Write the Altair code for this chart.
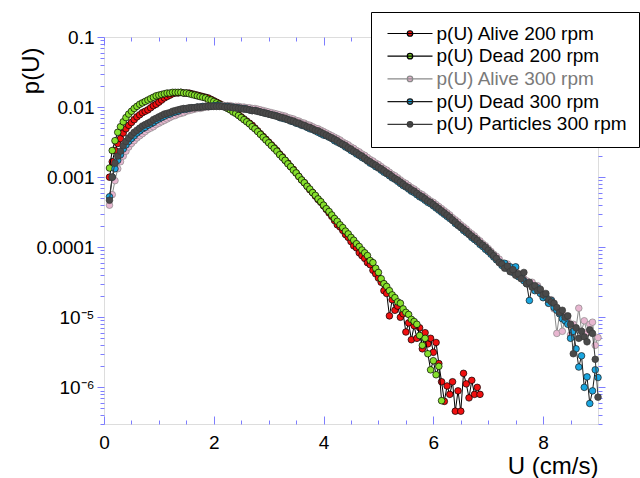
import math
import altair as alt
import pandas as pd

BLUE = "#7d7dff"
FONT = "Liberation Sans"

series_names = ["p(U) Alive 200 rpm", "p(U) Dead 200 rpm", "p(U) Alive 300 rpm",
                "p(U) Dead 300 rpm", "p(U) Particles 300 rpm"]
marker_colors = ["#f01010", "#86e02c", "#e8b6d0", "#1aa6e0", "#4a4a4a"]
line_colors = ["#000000", "#000000", "#8a8a8a", "#1a1a1a", "#3a3a3a"]

# speed bins U (cm/s)
u_200 = [0.10, 0.15, 0.20, 0.25, 0.30, 0.35, 0.40, 0.45, 0.50, 0.55,
         0.60, 0.65, 0.70, 0.75, 0.80, 0.85, 0.90, 0.95, 1.00, 1.05,
         1.10, 1.15, 1.20, 1.25, 1.30, 1.35, 1.40, 1.45, 1.50, 1.55,
         1.60, 1.65, 1.70, 1.75, 1.80, 1.85, 1.90, 1.95, 2.00, 2.05,
         2.10, 2.15, 2.20, 2.25, 2.30, 2.35, 2.40, 2.45, 2.50, 2.55,
         2.60, 2.65, 2.70, 2.75, 2.80, 2.85, 2.90, 2.95, 3.00, 3.05,
         3.10, 3.15, 3.20, 3.25, 3.30, 3.35, 3.40, 3.45, 3.50, 3.55,
         3.60, 3.65, 3.70, 3.75, 3.80, 3.85, 3.90, 3.95, 4.00, 4.05,
         4.10, 4.15, 4.20, 4.25, 4.30, 4.35, 4.40, 4.45, 4.50, 4.55,
         4.60, 4.65, 4.70, 4.75, 4.80, 4.85, 4.90, 4.95, 5.00, 5.05,
         5.10, 5.15, 5.20, 5.25, 5.30, 5.35, 5.40, 5.45, 5.50, 5.55,
         5.60, 5.65, 5.70, 5.75, 5.80, 5.85, 5.90, 5.95, 6.00, 6.05,
         6.10, 6.15, 6.20, 6.25, 6.30, 6.35, 6.40, 6.45, 6.50, 6.55,
         6.60, 6.65, 6.70, 6.75, 6.80, 6.85]

u_300 = [0.10, 0.15, 0.20, 0.25, 0.30, 0.35, 0.40, 0.45, 0.50, 0.55,
         0.60, 0.65, 0.70, 0.75, 0.80, 0.85, 0.90, 0.95, 1.00, 1.05,
         1.10, 1.15, 1.20, 1.25, 1.30, 1.35, 1.40, 1.45, 1.50, 1.55,
         1.60, 1.65, 1.70, 1.75, 1.80, 1.85, 1.90, 1.95, 2.00, 2.05,
         2.10, 2.15, 2.20, 2.25, 2.30, 2.35, 2.40, 2.45, 2.50, 2.55,
         2.60, 2.65, 2.70, 2.75, 2.80, 2.85, 2.90, 2.95, 3.00, 3.05,
         3.10, 3.15, 3.20, 3.25, 3.30, 3.35, 3.40, 3.45, 3.50, 3.55,
         3.60, 3.65, 3.70, 3.75, 3.80, 3.85, 3.90, 3.95, 4.00, 4.05,
         4.10, 4.15, 4.20, 4.25, 4.30, 4.35, 4.40, 4.45, 4.50, 4.55,
         4.60, 4.65, 4.70, 4.75, 4.80, 4.85, 4.90, 4.95, 5.00, 5.05,
         5.10, 5.15, 5.20, 5.25, 5.30, 5.35, 5.40, 5.45, 5.50, 5.55,
         5.60, 5.65, 5.70, 5.75, 5.80, 5.85, 5.90, 5.95, 6.00, 6.05,
         6.10, 6.15, 6.20, 6.25, 6.30, 6.35, 6.40, 6.45, 6.50, 6.55,
         6.60, 6.65, 6.70, 6.75, 6.80, 6.85, 6.90, 6.95, 7.00, 7.05,
         7.10, 7.15, 7.20, 7.25, 7.30, 7.35, 7.40, 7.45, 7.50, 7.55,
         7.60, 7.65, 7.70, 7.75, 7.80, 7.85, 7.90, 7.95, 8.00, 8.05,
         8.10, 8.15, 8.20, 8.25, 8.30, 8.35, 8.40, 8.45, 8.50, 8.55,
         8.60, 8.65, 8.70, 8.75, 8.80, 8.85, 8.90, 8.95, 9.00]

# log10 p(U)
alive_200_log10 = [
    -3.00, -2.78, -2.62, -2.52, -2.45, -2.37, -2.31, -2.26, -2.22, -2.18,
    -2.14, -2.11, -2.08, -2.06, -2.04, -2.01, -1.98, -1.96, -1.93, -1.90,
    -1.87, -1.85, -1.83, -1.81, -1.80, -1.80, -1.79, -1.80, -1.80, -1.80,
    -1.81, -1.82, -1.83, -1.84, -1.85, -1.86, -1.87, -1.89, -1.91, -1.93,
    -1.95, -1.97, -1.99, -2.01, -2.03, -2.05, -2.08, -2.11, -2.14, -2.17,
    -2.20, -2.23, -2.26, -2.30, -2.34, -2.38, -2.42, -2.46, -2.50, -2.54,
    -2.58, -2.62, -2.67, -2.71, -2.76, -2.80, -2.85, -2.89, -2.94, -2.99,
    -3.04, -3.08, -3.13, -3.18, -3.22, -3.27, -3.32, -3.36, -3.41, -3.46,
    -3.51, -3.56, -3.62, -3.68, -3.71, -3.76, -3.82, -3.86, -3.92, -3.98,
    -4.01, -4.08, -4.12, -4.16, -4.22, -4.25, -4.33, -4.38, -4.44, -4.50,
    -4.62, -4.66, -4.98, -4.75, -4.90, -4.84, -5.00, -4.95, -5.21, -5.08,
    -5.32, -5.12, -5.30, -5.15, -5.45, -5.22, -5.38, -5.30, -5.50, -5.36,
    -5.66, -5.92, -6.20, -5.98, -6.10, -5.92, -6.34, -6.05, -6.34, -5.80,
    -5.95, -6.15, -5.90, -6.10, -6.00, -6.10]

dead_200_log10 = [
    -2.87, -2.62, -2.48, -2.36, -2.28, -2.21, -2.15, -2.10, -2.06, -2.02,
    -1.99, -1.96, -1.94, -1.92, -1.90, -1.88, -1.86, -1.84, -1.83, -1.82,
    -1.81, -1.80, -1.80, -1.79, -1.79, -1.79, -1.79, -1.80, -1.80, -1.81,
    -1.82, -1.83, -1.84, -1.85, -1.86, -1.87, -1.89, -1.90, -1.92, -1.94,
    -1.96, -1.98, -2.00, -2.02, -2.04, -2.07, -2.09, -2.12, -2.15, -2.18,
    -2.21, -2.24, -2.28, -2.31, -2.35, -2.39, -2.43, -2.47, -2.51, -2.55,
    -2.59, -2.63, -2.68, -2.72, -2.76, -2.81, -2.85, -2.90, -2.94, -2.99,
    -3.04, -3.08, -3.13, -3.17, -3.22, -3.26, -3.31, -3.35, -3.40, -3.45,
    -3.49, -3.54, -3.59, -3.63, -3.68, -3.72, -3.77, -3.81, -3.86, -3.90,
    -3.95, -3.99, -4.04, -4.08, -4.12, -4.19, -4.22, -4.30, -4.36, -4.45,
    -4.52, -4.56, -4.62, -4.68, -4.72, -4.78, -4.80, -4.88, -4.93, -4.96,
    -5.03, -5.06, -5.10, -5.26, -5.40, -5.30, -5.52, -5.75, -5.62, -5.82,
    -5.70, -6.19]

alive_300_log10 = [
    -3.40, -3.25, -3.05, -2.88, -2.78, -2.70, -2.63, -2.57, -2.52, -2.48,
    -2.44, -2.41, -2.38, -2.35, -2.32, -2.30, -2.28, -2.25, -2.23, -2.21,
    -2.19, -2.17, -2.15, -2.13, -2.12, -2.10, -2.09, -2.08, -2.06, -2.05,
    -2.04, -2.03, -2.02, -2.02, -2.01, -2.00, -2.00, -1.99, -1.99, -1.99,
    -1.99, -1.98, -1.98, -1.98, -1.98, -1.99, -1.99, -1.99, -2.00, -2.00,
    -2.01, -2.01, -2.02, -2.02, -2.03, -2.04, -2.05, -2.06, -2.07, -2.08,
    -2.09, -2.10, -2.11, -2.12, -2.13, -2.15, -2.16, -2.17, -2.19, -2.20,
    -2.22, -2.23, -2.25, -2.26, -2.28, -2.30, -2.31, -2.33, -2.35, -2.37,
    -2.39, -2.41, -2.43, -2.45, -2.47, -2.50, -2.52, -2.54, -2.57, -2.59,
    -2.62, -2.64, -2.67, -2.69, -2.72, -2.75, -2.77, -2.80, -2.82, -2.85,
    -2.88, -2.90, -2.93, -2.96, -2.98, -3.01, -3.04, -3.07, -3.09, -3.12,
    -3.15, -3.17, -3.20, -3.23, -3.25, -3.28, -3.31, -3.34, -3.36, -3.39,
    -3.42, -3.45, -3.48, -3.51, -3.54, -3.58, -3.61, -3.64, -3.68, -3.71,
    -3.74, -3.78, -3.81, -3.84, -3.88, -3.91, -3.95, -3.98, -4.02, -4.06,
    -4.10, -4.13, -4.17, -4.22, -4.26, -4.24, -4.32, -4.34, -4.30, -4.38,
    -4.40, -4.45, -4.48, -4.52, -4.50, -4.58, -4.55, -4.62, -4.68, -4.72,
    -4.80, -4.75, -4.88, -5.23, -4.95, -5.20, -4.98, -5.05, -5.25, -5.10,
    -5.15, -4.87, -5.20, -5.05, -5.22, -5.10, -5.07, -5.40, -5.29]

dead_300_log10 = [
    -3.28, -3.00, -2.88, -2.76, -2.68, -2.60, -2.54, -2.49, -2.45, -2.41,
    -2.37, -2.34, -2.31, -2.29, -2.26, -2.24, -2.22, -2.19, -2.17, -2.15,
    -2.13, -2.11, -2.10, -2.08, -2.07, -2.06, -2.04, -2.03, -2.03, -2.02,
    -2.01, -2.01, -2.00, -2.00, -1.99, -1.99, -1.99, -1.99, -1.98, -1.98,
    -1.98, -1.99, -1.99, -1.99, -2.00, -2.00, -2.01, -2.01, -2.02, -2.02,
    -2.03, -2.04, -2.05, -2.05, -2.06, -2.07, -2.08, -2.09, -2.10, -2.11,
    -2.12, -2.13, -2.15, -2.16, -2.17, -2.18, -2.20, -2.21, -2.23, -2.24,
    -2.26, -2.27, -2.29, -2.31, -2.32, -2.34, -2.36, -2.38, -2.40, -2.41,
    -2.43, -2.45, -2.48, -2.50, -2.52, -2.54, -2.57, -2.59, -2.62, -2.64,
    -2.67, -2.69, -2.72, -2.74, -2.77, -2.80, -2.82, -2.85, -2.87, -2.90,
    -2.93, -2.95, -2.98, -3.01, -3.03, -3.06, -3.09, -3.12, -3.14, -3.17,
    -3.20, -3.22, -3.25, -3.28, -3.30, -3.33, -3.36, -3.38, -3.41, -3.44,
    -3.47, -3.50, -3.53, -3.56, -3.59, -3.62, -3.66, -3.69, -3.72, -3.76,
    -3.79, -3.82, -3.86, -3.89, -3.92, -3.96, -3.99, -4.03, -4.06, -4.10,
    -4.14, -4.18, -4.21, -4.26, -4.23, -4.30, -4.28, -4.36, -4.28, -4.42,
    -4.40, -4.48, -4.52, -4.76, -4.55, -4.62, -4.58, -4.66, -4.72, -4.70,
    -4.80, -4.76, -4.86, -4.90, -4.95, -5.02, -5.05, -5.10, -5.30, -5.20,
    -5.45, -5.71, -5.55, -6.00, -5.85, -6.23, -6.05, -5.75, -5.86]

particles_300_log10 = [
    -3.33, -3.00, -2.80, -2.70, -2.63, -2.55, -2.49, -2.44, -2.40, -2.36,
    -2.33, -2.30, -2.27, -2.25, -2.23, -2.21, -2.18, -2.16, -2.14, -2.12,
    -2.10, -2.09, -2.08, -2.06, -2.05, -2.04, -2.03, -2.02, -2.02, -2.01,
    -2.01, -2.01, -2.00, -2.00, -2.00, -1.99, -1.99, -1.99, -1.99, -1.99,
    -1.99, -1.99, -2.00, -2.00, -2.00, -2.01, -2.01, -2.02, -2.02, -2.03,
    -2.03, -2.04, -2.05, -2.05, -2.06, -2.07, -2.08, -2.09, -2.10, -2.11,
    -2.12, -2.13, -2.14, -2.15, -2.16, -2.18, -2.19, -2.20, -2.22, -2.23,
    -2.25, -2.26, -2.28, -2.29, -2.31, -2.33, -2.34, -2.36, -2.38, -2.40,
    -2.42, -2.44, -2.46, -2.48, -2.51, -2.53, -2.55, -2.58, -2.60, -2.63,
    -2.65, -2.68, -2.70, -2.73, -2.76, -2.78, -2.81, -2.83, -2.86, -2.88,
    -2.91, -2.94, -2.96, -2.99, -3.02, -3.04, -3.07, -3.10, -3.13, -3.15,
    -3.18, -3.20, -3.23, -3.26, -3.28, -3.31, -3.34, -3.36, -3.39, -3.42,
    -3.45, -3.48, -3.51, -3.54, -3.57, -3.61, -3.64, -3.68, -3.71, -3.74,
    -3.77, -3.81, -3.84, -3.87, -3.90, -3.94, -3.97, -4.00, -4.04, -4.08,
    -4.12, -4.16, -4.22, -4.24, -4.30, -4.27, -4.35, -4.32, -4.40, -4.38,
    -4.45, -4.36, -4.52, -4.50, -4.57, -4.55, -4.62, -4.60, -4.68, -4.66,
    -4.75, -4.78, -4.80, -4.86, -4.93, -4.90, -5.00, -4.98, -5.10, -5.52,
    -5.15, -5.30, -5.20, -5.28, -5.35, -5.18, -5.23, -5.60, -6.14]

series_data = [
    (u_200, alive_200_log10),
    (u_200, dead_200_log10),
    (u_300, alive_300_log10),
    (u_300, dead_300_log10),
    (u_300, particles_300_log10),
]

x_major = [0, 2, 4, 6, 8]
x_minor = [0.5, 1, 1.5, 2.5, 3, 3.5, 4.5, 5, 5.5, 6.5, 7, 7.5, 8.5]
y_major = [1e-6, 1e-5, 1e-4, 1e-3, 1e-2, 1e-1]
y_major_labels = ["10⁻⁶", "10⁻⁵", "0.0001", "0.001", "0.01", "0.1"]
y_minor = [3e-7, 4e-7, 5e-7, 6e-7, 7e-7, 8e-7, 9e-7,
           2e-6, 3e-6, 4e-6, 5e-6, 6e-6, 7e-6, 8e-6, 9e-6,
           2e-5, 3e-5, 4e-5, 5e-5, 6e-5, 7e-5, 8e-5, 9e-5,
           2e-4, 3e-4, 4e-4, 5e-4, 6e-4, 7e-4, 8e-4, 9e-4,
           2e-3, 3e-3, 4e-3, 5e-3, 6e-3, 7e-3, 8e-3, 9e-3,
           2e-2, 3e-2, 4e-2, 5e-2, 6e-2, 7e-2, 8e-2, 9e-2]

rows = []
for name, (us, logs) in zip(series_names, series_data):
    for u, lv in zip(us, logs):
        rows.append({"series": name, "u": u, "p": 10 ** lv})
df = pd.DataFrame(rows)

xs = alt.Scale(domain=[0, 9], nice=False, zero=False)
ys = alt.Scale(type="log", domain=[3e-7, 0.1], nice=False)
fill_scale = alt.Scale(domain=series_names, range=marker_colors)
stroke_scale = alt.Scale(domain=series_names, range=line_colors)

# y tick label expression built from the label list
expr_parts = []
for v, lab in zip(y_major, y_major_labels):
    expr_parts.append(f"abs(log(datum.value)/LN10 - ({math.log10(v):.3f})) < 0.01 ? '{lab}'")
label_expr = " : ".join(expr_parts) + " : ''"

common = dict(grid=False, domain=False, tickColor=BLUE, tickWidth=1,
              labelFont=FONT, titleFont=FONT, labelColor="black", titleColor="black")

x_major_axis = alt.Axis(orient="bottom", values=x_major, tickSize=8, offset=-8,
                        labelFontSize=19, labelPadding=9, labelFlush=False,
                        labelOverlap=False, format="d",
                        title="U (cm/s)", titleFontSize=24, titleFontWeight="normal",
                        titleAnchor="end", titleAlign="right", titleBaseline="alphabetic",
                        titleX=494, titleY=57, **common)
y_major_axis = alt.Axis(orient="left", values=y_major, tickSize=7, labelExpr=label_expr,
                        labelFontSize=19, labelPadding=3, labelOverlap=False,
                        labelFlush=False,
                        title="p(U)", titleFontSize=24, titleFontWeight="normal",
                        titleAngle=270, titleX=-66, titleY=10, titleAlign="right",
                        titleBaseline="alphabetic", **common)

alive300_label = series_names[2]
legend = alt.Legend(
    title=None, orient="none", legendX=267, legendY=-25,
    symbolType="M-4.5,0H4.5M0.55,0A0.55,0.55,0,1,1,-0.55,0A0.55,0.55,0,1,1,0.55,0Z",
    symbolSize=100, symbolStrokeWidth=1.2, symbolOffset=17.5, labelOffset=17,
    labelFont=FONT, labelFontSize=19, labelLimit=400,
    labelColor={"expr": f"datum.label == '{alive300_label}' ? '#7a7a7a' : '#000000'"},
    rowPadding=2.7, padding=12, strokeColor="black", fillColor="white", cornerRadius=0,
)

layers = []
for i, name in enumerate(series_names):
    d = df[df["series"] == name]
    first = i == 0
    line = alt.Chart(d).mark_line(stroke=line_colors[i], strokeWidth=1).encode(
        x=alt.X("u:Q", scale=xs, axis=x_major_axis if first else None),
        y=alt.Y("p:Q", scale=ys, axis=y_major_axis if first else None),
    )
    pts = alt.Chart(d).mark_point(filled=True, size=44, strokeWidth=0.7, opacity=1).encode(
        x=alt.X("u:Q", scale=xs, axis=None),
        y=alt.Y("p:Q", scale=ys, axis=None),
        fill=alt.Fill("series:N", scale=fill_scale, legend=legend),
        stroke=alt.Stroke("series:N", scale=stroke_scale, legend=legend),
    )
    layers += [line, pts]


def y_axis_layer(vals, orient, size):
    return alt.Chart(pd.DataFrame({"v": vals})).mark_point(opacity=0).encode(
        y=alt.Y("v:Q", scale=ys, axis=alt.Axis(orient=orient, values=vals, tickSize=size,
                                                labels=False, title=None, **common)))


def x_axis_layer(vals, orient, size):
    return alt.Chart(pd.DataFrame({"v": vals})).mark_point(opacity=0).encode(
        x=alt.X("v:Q", scale=xs, axis=alt.Axis(orient=orient, values=vals, tickSize=size,
                                                offset=-size, labels=False, title=None,
                                                **common)))


layers += [
    y_axis_layer(y_minor, "left", 4),
    y_axis_layer(y_major, "right", 7),
    y_axis_layer(y_minor, "right", 4),
    x_axis_layer(x_minor, "bottom", 4),
    x_axis_layer(x_major, "top", 8),
    x_axis_layer(x_minor, "top", 4),
]

chart = alt.layer(*layers).resolve_axis(x="independent", y="independent").properties(
    width=494, height=387,
    padding={"left": 104, "top": 37, "right": 42, "bottom": 54},
    autosize=alt.AutoSizeParams(type="none"),
).configure_view(stroke=BLUE, strokeWidth=1).configure(background="white")

chart.save("out.html", embed_options={"renderer": "svg", "actions": False})
